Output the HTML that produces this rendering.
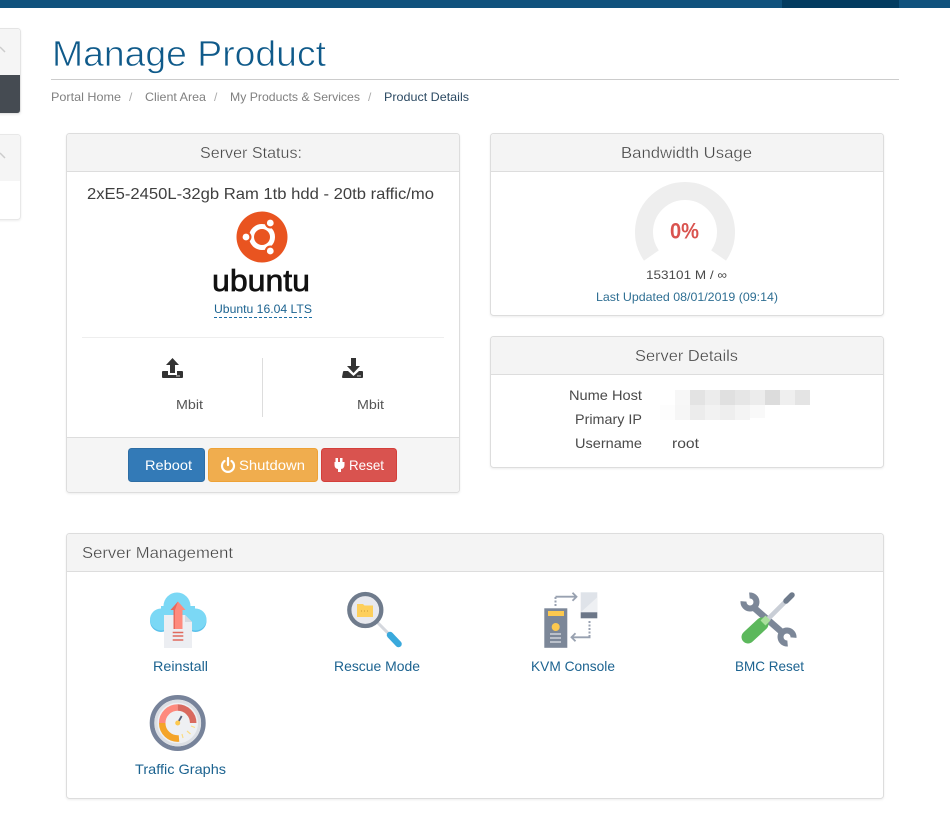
<!DOCTYPE html>
<html>
<head>
<meta charset="utf-8">
<title>Manage Product</title>
<style>
html,body{margin:0;padding:0;background:#fff;width:950px;height:834px;overflow:hidden}
svg{display:block}
text{font-family:"Liberation Sans",sans-serif;fill:#4a4a4a;font-size:14px}
.p{fill:#fff;stroke:#ddd}
.h{fill:#f4f4f4}
.t{font-size:16px;fill:#444;stroke:#f4f4f4;stroke-width:.3}
.b{font-size:12px;fill:#808080}
.l{font-size:14px;fill:#1c6390}
.w{font-size:14px;fill:#fff}
</style>
</head>
<body>
<svg width="950" height="834" viewBox="0 0 950 834" xmlns="http://www.w3.org/2000/svg">
<defs>
<filter id="s" x="-5%" y="-5%" width="110%" height="110%"><feDropShadow dx="0" dy="1" stdDeviation="1" flood-color="#000" flood-opacity=".07"/></filter>
</defs>
<!-- top bar -->
<rect width="950" height="8" fill="#10527d"/>
<rect x="782" width="117" height="8" fill="#033c60"/>

<!-- sidebar -->
<g filter="url(#s)">
<rect x="-10" y="28.5" width="30.5" height="85" rx="3" fill="#fff" stroke="#e4e4e4"/>
<rect x="-10" y="134.5" width="30.5" height="85" rx="3" fill="#fff" stroke="#e8e8e8"/>
</g>
<path d="M-9 29h26q3 0 3 3v43h-29z" fill="#f5f5f5"/>
<path d="M-9 75h29v35q0 3-3 3h-26z" fill="#454b52"/>
<path d="M-9 135h26q3 0 3 3v43h-29z" fill="#f5f5f5"/>
<path d="M0 47l5 5M0 153l5 5" stroke="#ccc" stroke-width="1.5" fill="none"/>

<!-- heading -->
<text x="52" y="66" textLength="274" lengthAdjust="spacingAndGlyphs" style="font-size:36px;fill:#0f5a8a;stroke:#fff;stroke-width:.7">Manage Product</text>
<rect x="51" y="79" width="848" height="1" fill="#ccc"/>
<text class="b" x="51" y="101" textLength="70" lengthAdjust="spacingAndGlyphs">Portal Home</text>
<text class="b" x="129" y="101" style="fill:#aaa">/</text>
<text class="b" x="145" y="101" textLength="61" lengthAdjust="spacingAndGlyphs">Client Area</text>
<text class="b" x="214" y="101" style="fill:#aaa">/</text>
<text class="b" x="230" y="101" textLength="130" lengthAdjust="spacingAndGlyphs">My Products &amp; Services</text>
<text class="b" x="368" y="101" style="fill:#aaa">/</text>
<text class="b" x="384" y="101" textLength="85" lengthAdjust="spacingAndGlyphs" style="fill:#2c4a63">Product Details</text>

<!-- Server Status -->
<rect class="p" x="66.5" y="133.5" width="393" height="359" rx="3" filter="url(#s)"/>
<path class="h" d="M67 171V137q0-3 3-3h386q3 0 3 3v34z"/>
<rect x="67" y="171" width="392" height="1" fill="#ddd"/>
<text class="t" x="200" y="158" textLength="102" lengthAdjust="spacingAndGlyphs">Server Status:</text>
<text x="87" y="199" textLength="347" lengthAdjust="spacingAndGlyphs" style="font-size:16px;fill:#3f3f3f">2xE5-2450L-32gb Ram 1tb hdd - 20tb raffic/mo</text>
<!-- ubuntu logo -->
<circle cx="262" cy="237" r="25.5" fill="#e95420"/>
<circle cx="262" cy="237" r="10.5" fill="none" stroke="#fff" stroke-width="5"/>
<circle cx="270.300" cy="223" r="5.5" fill="#e95420"/>
<circle cx="270.300" cy="251" r="5.5" fill="#e95420"/>
<circle cx="246" cy="237" r="5.5" fill="#e95420"/>
<circle cx="270.300" cy="223" r="3.4" fill="#fff"/>
<circle cx="270.300" cy="251" r="3.4" fill="#fff"/>
<circle cx="246" cy="237" r="3.4" fill="#fff"/>
<text x="212" y="291" textLength="98" lengthAdjust="spacingAndGlyphs" style="font-size:31px;fill:#111;stroke:#111;stroke-width:.7">ubuntu</text>
<text x="214" y="313" textLength="98" lengthAdjust="spacingAndGlyphs" style="font-size:12px;fill:#1c6390">Ubuntu 16.04 LTS</text>
<line x1="214" y1="317.500" x2="312" y2="317.500" stroke="#1c6fa6" stroke-dasharray="3 2"/>
<rect x="82" y="337" width="362" height="1" fill="#eee"/>
<rect x="262" y="358" width="1" height="59" fill="#ddd"/>
<!-- upload -->
<path d="M172.500 358l6.500 7h-4v8h-5v-8h-4zM162 372q0-1 1-1h5v4h9v-4h5q1 0 1 1v5q0 1-1 1h-19q-1 0-1-1z" fill="#333"/>
<circle cx="179" cy="376" r=".7" fill="#fff"/><circle cx="177" cy="376" r=".7" fill="#fff"/>
<!-- download -->
<path d="M351 358h5v8h4l-6.500 7-6.500-7h4zM343 372q0-1 1-1h4l5.500 5 5.500-5h3q1 0 1 1v5q0 1-1 1h-19q-1 0-1-1z" fill="#333"/>
<circle cx="360" cy="376" r=".7" fill="#fff"/><circle cx="358" cy="376" r=".7" fill="#fff"/>
<text x="176" y="409" textLength="27" lengthAdjust="spacingAndGlyphs" style="font-size:13px;fill:#555">Mbit</text>
<text x="357" y="409" textLength="27" lengthAdjust="spacingAndGlyphs" style="font-size:13px;fill:#555">Mbit</text>
<!-- footer -->
<path d="M67 438h392v51q0 3-3 3H70q-3 0-3-3z" fill="#f5f5f5"/>
<rect x="67" y="437" width="392" height="1" fill="#ddd"/>
<rect x="128.500" y="448.500" width="76" height="33" rx="3" fill="#337ab7" stroke="#2e6da4"/>
<rect x="208.500" y="448.500" width="109" height="33" rx="3" fill="#f0ad4e" stroke="#eea236"/>
<rect x="321.500" y="448.500" width="75" height="33" rx="3" fill="#d9534f" stroke="#d43f3a"/>
<text class="w" x="145" y="470" textLength="47" lengthAdjust="spacingAndGlyphs">Reboot</text>
<path d="M224.500 461a6 6 0 1 0 7 0" fill="none" stroke="#fff" stroke-width="2.200" stroke-linecap="round"/>
<path d="M228 458v7" stroke="#fff" stroke-width="2.200" stroke-linecap="round"/>
<text class="w" x="239" y="470" textLength="66" lengthAdjust="spacingAndGlyphs">Shutdown</text>
<path d="M335.500 458h2.500v4h2v-4h2.500v4h2v3q0 3.500-3.500 4v3h-3v-3q-3.500-.5-3.500-4v-3h1z" fill="#fff"/>
<text class="w" x="349" y="470" textLength="35" lengthAdjust="spacingAndGlyphs">Reset</text>

<!-- Bandwidth -->
<rect class="p" x="490.500" y="133.500" width="393" height="182" rx="3" filter="url(#s)"/>
<path class="h" d="M491 171V137q0-3 3-3h386q3 0 3 3v34z"/>
<rect x="491" y="171" width="392" height="1" fill="#ddd"/>
<text class="t" x="621" y="158" textLength="131" lengthAdjust="spacingAndGlyphs">Bandwidth Usage</text>
<path d="M651.400 255.500A41 41 0 1 1 718.600 255.500" fill="none" stroke="#eee" stroke-width="18"/>
<text x="670" y="238.500" textLength="29" lengthAdjust="spacingAndGlyphs" style="font-size:22px;font-weight:bold;fill:#d9534f">0%</text>
<text x="646" y="279" textLength="81" lengthAdjust="spacingAndGlyphs" style="font-size:12px;fill:#4a4a4a">153101 M / ∞</text>
<text x="596" y="301" textLength="182" lengthAdjust="spacingAndGlyphs" style="font-size:12px;fill:#2f6f93">Last Updated 08/01/2019 (09:14)</text>

<!-- Server Details -->
<rect class="p" x="490.500" y="336.500" width="393" height="131" rx="3" filter="url(#s)"/>
<path class="h" d="M491 374V340q0-3 3-3h386q3 0 3 3v34z"/>
<rect x="491" y="374" width="392" height="1" fill="#ddd"/>
<text class="t" x="635" y="361" textLength="103" lengthAdjust="spacingAndGlyphs">Server Details</text>
<text x="569" y="400" textLength="73" lengthAdjust="spacingAndGlyphs">Nume Host</text>
<text x="575" y="424" textLength="67" lengthAdjust="spacingAndGlyphs">Primary IP</text>
<text x="575" y="448" textLength="67" lengthAdjust="spacingAndGlyphs">Username</text>
<text x="672" y="448" textLength="27" lengthAdjust="spacingAndGlyphs">root</text>
<!-- blurred pixels -->
<g>
<rect x="675" y="390" width="15" height="15" fill="#f7f7f7"/>
<rect x="690" y="390" width="15" height="15" fill="#e3e3e3"/>
<rect x="705" y="390" width="15" height="15" fill="#ececec"/>
<rect x="720" y="390" width="15" height="15" fill="#e0e0e0"/>
<rect x="735" y="390" width="15" height="15" fill="#e6e6e6"/>
<rect x="750" y="390" width="15" height="15" fill="#ececec"/>
<rect x="765" y="390" width="15" height="15" fill="#dcdcdc"/>
<rect x="780" y="390" width="15" height="15" fill="#efefef"/>
<rect x="795" y="390" width="15" height="15" fill="#e4e4e4"/>
<rect x="660" y="405" width="15" height="15" fill="#fdfdfd"/>
<rect x="675" y="405" width="15" height="15" fill="#f6f6f6"/>
<rect x="690" y="405" width="15" height="15" fill="#ececec"/>
<rect x="705" y="405" width="15" height="15" fill="#f2f2f2"/>
<rect x="720" y="405" width="15" height="15" fill="#eeeeee"/>
<rect x="735" y="405" width="15" height="15" fill="#f4f4f4"/>
<rect x="750" y="405" width="15" height="13" fill="#f9f9f9"/>
</g>

<!-- Server Management -->
<rect class="p" x="66.500" y="533.500" width="817" height="265" rx="3" filter="url(#s)"/>
<path class="h" d="M67 571V537q0-3 3-3h810q3 0 3 3v34z"/>
<rect x="67" y="571" width="816" height="1" fill="#ddd"/>
<text class="t" x="82" y="558" textLength="151" lengthAdjust="spacingAndGlyphs">Server Management</text>

<!-- Reinstall icon -->
<g>
<circle cx="161" cy="621" r="11" fill="#5bc0ea"/>
<circle cx="195.500" cy="621" r="11" fill="#5bc0ea"/>
<circle cx="161" cy="619.500" r="11" fill="#7bd8f5"/>
<circle cx="195.500" cy="619.500" r="11" fill="#7bd8f5"/>
<circle cx="177" cy="606" r="13.500" fill="#7bd8f5"/>
<rect x="161" y="606" width="34" height="24" fill="#7bd8f5"/>
<path d="M164 615h21l7 7v26h-28z" fill="#eceef2"/>
<path d="M185 615l7 7h-7z" fill="#d6d9e0"/>
<path d="M173.500 629v-19h-3l7.500-8.500 7.500 8.500h-3v19z" fill="#fe8a7d"/>
<path d="M173.500 629v-19h-3l7.500-8.500-3 8.500v19z" fill="#e8695c"/>
<path d="M172.700 632.500h10.600M172.700 636h10.600M172.700 640h10.600" stroke="#e0695c" stroke-width="1.500"/>
</g>
<text class="l" x="153" y="671" textLength="55" lengthAdjust="spacingAndGlyphs">Reinstall</text>

<!-- Rescue icon -->
<g>
<line x1="377" y1="622" x2="390" y2="635" stroke="#d5d8de" stroke-width="3"/>
<line x1="390" y1="635" x2="398.500" y2="644" stroke="#3aa9dc" stroke-width="6.500" stroke-linecap="round"/>
<circle cx="365.300" cy="610" r="16" fill="#e8e9ee" stroke="#6f7b8c" stroke-width="4.300"/>
<path d="M357 604h6l1.500 1.500H373V617h-16z" fill="#fdcf5b"/>
<path d="M361 611h1M364 611h1M367 611h1" stroke="#c99a33"/>
</g>
<text class="l" x="334" y="671" textLength="86" lengthAdjust="spacingAndGlyphs">Rescue Mode</text>

<!-- KVM icon -->
<g>
<rect x="544.300" y="608.300" width="23" height="39.500" fill="#7c8798"/>
<rect x="548" y="611" width="16" height="5" fill="#fdc94f"/>
<circle cx="555.700" cy="627" r="4" fill="#fdc94f"/>
<path d="M550 634h11M550 638h11M550 642h11" stroke="#dfe2e8" stroke-width="1.200"/>
<rect x="580.700" y="592.300" width="16.600" height="20" fill="#dfe3e9"/>
<path d="M580.700 612.300l16.600-15v15z" fill="#eef0f3"/>
<rect x="580.700" y="612.300" width="16.600" height="6" fill="#6c7788"/>
<path d="M555.500 606v-10" stroke="#98a1b0" stroke-width="2" stroke-dasharray="2 1.500" fill="none"/>
<path d="M555.500 596.700h20M572.500 592.700l4 4-4 4" stroke="#98a1b0" stroke-width="1.800" fill="none"/>
<path d="M589.500 621v16" stroke="#98a1b0" stroke-width="2" stroke-dasharray="2 1.500" fill="none"/>
<path d="M590.500 637.300h-18M575.500 633.300l-4 4 4 4" stroke="#98a1b0" stroke-width="1.800" fill="none"/>
</g>
<text class="l" x="531" y="671" textLength="84" lengthAdjust="spacingAndGlyphs">KVM Console</text>

<!-- BMC icon -->
<g>
<line x1="752" y1="606" x2="784" y2="634" stroke="#7c8798" stroke-width="6.500"/>
<path d="M749.400 595.500A6.500 6.500 0 1 1 743.500 601.400" fill="none" stroke="#7c8798" stroke-width="6"/>
<path d="M787.600 643.500A6.500 6.500 0 1 1 793.500 637.600" fill="none" stroke="#7c8798" stroke-width="6"/>
<line x1="768" y1="619" x2="787" y2="600" stroke="#c9ced6" stroke-width="4.500"/>
<line x1="786" y1="601" x2="792" y2="595" stroke="#6f7b8c" stroke-width="5.500" stroke-linecap="round"/>
<line x1="748" y1="637" x2="762" y2="624" stroke="#5cb85c" stroke-width="13" stroke-linecap="round"/>
<line x1="763" y1="623" x2="768" y2="618" stroke="#a9df9c" stroke-width="7"/>
</g>
<text class="l" x="735" y="671" textLength="69" lengthAdjust="spacingAndGlyphs">BMC Reset</text>

<!-- Traffic icon -->
<g>
<circle cx="177.700" cy="723" r="25.700" fill="#eef0f3" stroke="#77839a" stroke-width="4.600"/>
<circle cx="177.700" cy="723" r="21.800" fill="none" stroke="#dcdfe4" stroke-width="3"/>
<path d="M162.200 723A15.500 15.500 0 0 1 177.700 707.500" fill="none" stroke="#fe8a7d" stroke-width="6.500"/>
<path d="M177.700 707.500A15.500 15.500 0 0 1 193.200 723" fill="none" stroke="#d96a5f" stroke-width="6.500"/>
<path d="M162.200 723A15.500 15.500 0 0 0 179 738.500" fill="none" stroke="#f4a428" stroke-width="6.500"/>
<path d="M177.700 723l4-7" stroke="#55617a" stroke-width="1.800"/>
<circle cx="177.700" cy="723" r="2.500" fill="#fdc94f"/>
<path d="M182 734l1 4M187 731l3.500 3M191 726l4 1.500" stroke="#fbdc83" stroke-width="1.200"/>
</g>
<text class="l" x="135" y="774" textLength="91" lengthAdjust="spacingAndGlyphs">Traffic Graphs</text>
</svg>
</body>
</html>
